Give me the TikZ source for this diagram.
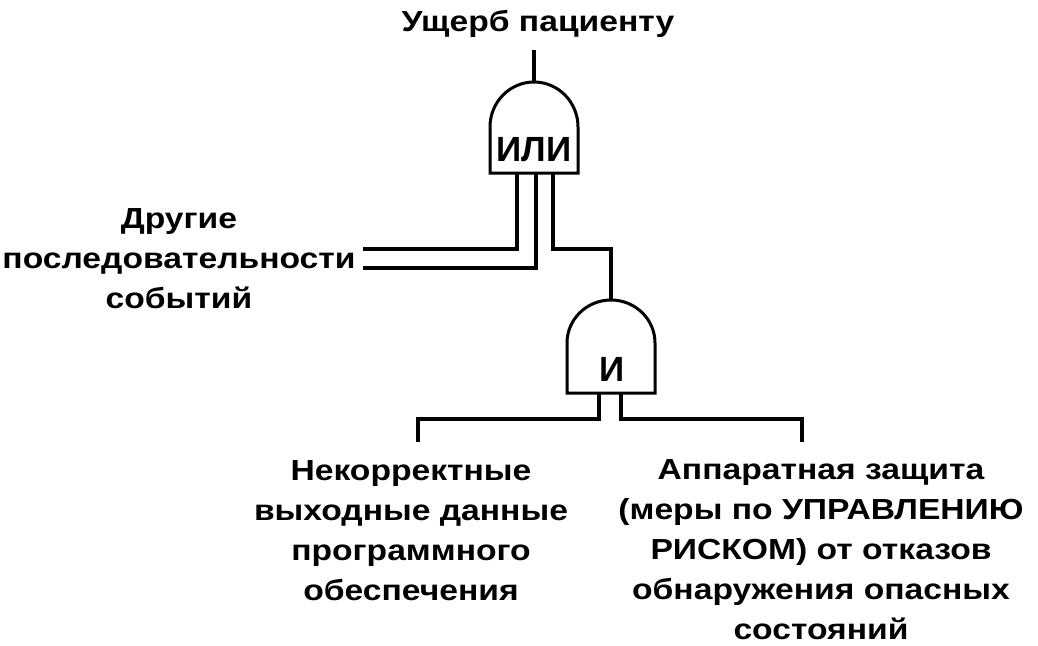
\documentclass[tikz,border=0pt]{standalone}
\usepackage{fontspec}
\setmainfont{Liberation Sans}
\newfontfamily\capfont[FakeStretch=1.16]{Liberation Sans}

\tikzset{
  wire/.style={line width=3.5pt},
  gatebody/.style={line width=3pt, fill=white},
  gatelabel/.style={font=\fontsize{35}{35}\selectfont\bfseries, inner sep=0pt},
  caption/.style={align=center, font=\capfont\fontsize{29}{40}\selectfont\bfseries, inner sep=0pt, anchor=base}
}

\begin{document}
\begin{tikzpicture}[x=1pt,y=-1pt]
\useasboundingbox (0,0) rectangle (1038,645);

% gate OR
\draw [gatebody] (490,173) -- (490,127) arc [start angle=180, end angle=360, x radius=44, y radius=45] -- (578,173) -- cycle;
\node [gatelabel] (or) at (534,150) {ИЛИ};
\coordinate (orout) at (534,82);
\coordinate (orinA) at (517,173);
\coordinate (orinB) at (536,173);
\coordinate (orinC) at (553,173);

% gate AND
\draw [gatebody] (567,393) -- (567,343) arc [start angle=180, end angle=360, x radius=44, y radius=43] -- (655,393) -- cycle;
\node [gatelabel] (and) at (612,369) {И};
\coordinate (andout) at (611,300);
\coordinate (andinA) at (599,393);
\coordinate (andinB) at (621,393);

% texts (base = last line)
\node [caption] (harm) at (538,31) {Ущерб пациенту};
\node [caption] (other) at (179,308) {Другие\\последовательности\\событий};
\node [caption] (soft) at (411,600) {Некорректные\\выходные данные\\программного\\обеспечения};
\node [caption] (hard) at (821,639) {Аппаратная защита\\(меры по УПРАВЛЕНИЮ\\РИСКОМ) от отказов\\обнаружения опасных\\состояний};

\coordinate (otherA) at (363,249);
\coordinate (otherB) at (363,268);
\coordinate (softin) at (418,442);
\coordinate (hardin) at (802,442);
\coordinate (harmout) at (534,50);

% wires
\draw [wire] (harmout) -- (orout);
\draw [wire] (orinA) |- (otherA);
\draw [wire] (orinB) |- (otherB);
\draw [wire] (orinC) -- (553,249) -| (andout);
\draw [wire] (andinA) -- (599,419) -| (softin);
\draw [wire] (andinB) -- (621,419) -| (hardin);
\end{tikzpicture}
\end{document}
